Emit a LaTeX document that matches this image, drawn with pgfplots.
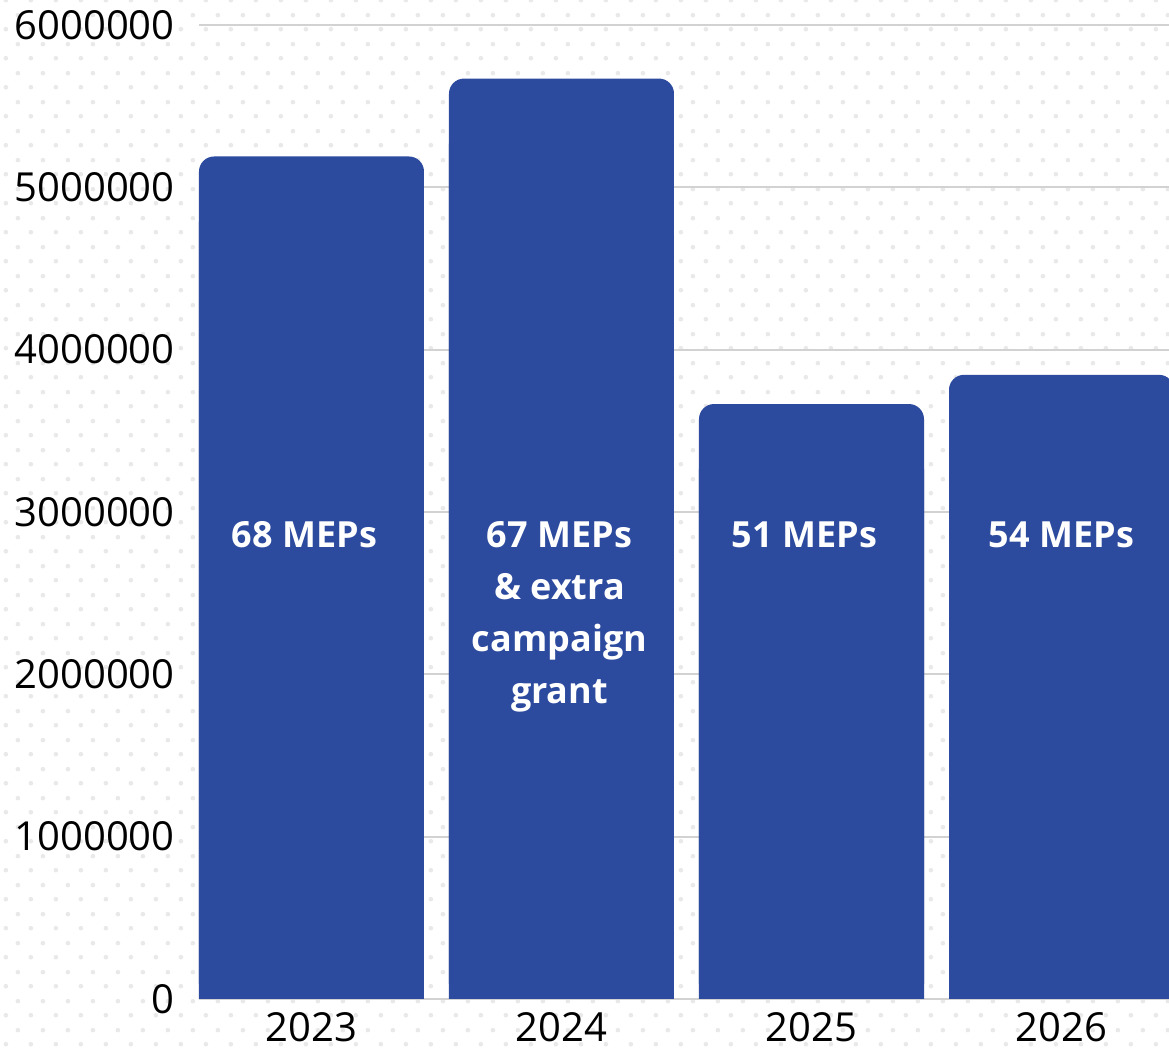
\documentclass[border=0pt]{standalone}
\usepackage{pgfplots}
\pgfplotsset{compat=1.18}
\usepackage{pgfplotstable}
\usepackage{fontspec}
\setmainfont{Open Sans}
\usetikzlibrary{patterns.meta}
\definecolor{barblue}{HTML}{2C4A9E}
\definecolor{gridgray}{HTML}{D2D2D2}
\definecolor{dotgray}{HTML}{E9E9E9}
\pgfplotstableread{
x y
0 5190000
1 5670000
2 3665000
3 3845000
}\datatable
\tikzdeclarepattern{
  name=bgdots, type=colored,
  bottom left={(0pt,0pt)}, top right={(12.25pt,14.5pt)},
  tile size={(12.25pt,14.5pt)},
  code={\fill[dotgray] (3pt,3pt) circle (1.2pt);
        \fill[dotgray] (9.125pt,10.25pt) circle (1.2pt);}}
\begin{document}
\begin{tikzpicture}
\useasboundingbox (-99.5pt,-25.5pt) rectangle (485pt,499.5pt);
\fill[pattern=bgdots] (-99.5pt,-25.5pt) rectangle (485pt,499.5pt);
\begin{axis}[
  at={(0,0)}, anchor=south west,
  scale only axis, width=485pt, height=487pt,
  xmin=-0.45, xmax=3.43, ymin=0, ymax=6000000,
  ytick={0,1000000,2000000,3000000,4000000,5000000,6000000},
  yticklabels={0,1000000,2000000,3000000,4000000,5000000,6000000},
  xtick={0,1,2,3}, xticklabels={2023,2024,2025,2026},
  ymajorgrids, grid style={gridgray, line width=1pt},
  axis line style={draw=none}, major tick length=0pt,
  tick label style={font=\fontsize{20}{22}\selectfont, text=black, inner sep=0pt},
  yticklabel style={anchor=east, xshift=-12pt},
  xticklabel style={anchor=north, yshift=-6.5pt},
  clip=true,
]
\addplot[ybar, bar width=0.9, bar shift=0pt, fill=barblue, draw=none, rounded corners=7.5pt] table {\datatable};
\addplot[ybar, bar width=0.9, bar shift=0pt, fill=barblue, draw=none, y filter/.expression={y-400000}] table {\datatable};
\begin{scope}[every node/.style={font=\fontsize{18}{26}\selectfont\bfseries, text=white, anchor=base, align=center}]
\node[xshift=-3.5pt] at (axis cs:0,2781000) {68 MEPs};
\node[xshift=-1pt] at (axis cs:1,1820000) {67 MEPs\\\& extra\\campaign\\grant};
\node[xshift=-3.5pt] at (axis cs:2,2781000) {51 MEPs};
\node at (axis cs:3,2781000) {54 MEPs};
\end{scope}
\end{axis}
\end{tikzpicture}
\end{document}
